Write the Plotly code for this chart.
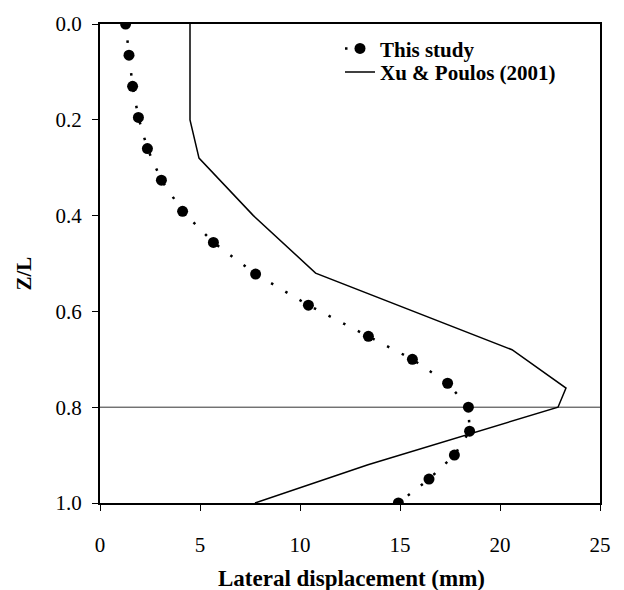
import plotly.graph_objects as go

# This study
study_z = [0.0, 0.065, 0.13, 0.195, 0.26, 0.326, 0.391, 0.456, 0.522, 0.587, 0.652, 0.70, 0.75, 0.80, 0.85, 0.90, 0.95, 1.0]
study_x = [1.28, 1.45, 1.63, 1.92, 2.37, 3.07, 4.13, 5.67, 7.78, 10.42, 13.42, 15.62, 17.38, 18.42, 18.48, 17.72, 16.45, 14.92]

# Xu & Poulos (2001)
xu_z = [0.0, 0.2, 0.28, 0.40, 0.52, 0.68, 0.76, 0.80, 0.92, 1.0]
xu_x = [4.5, 4.5, 4.95, 7.67, 10.78, 20.6, 23.3, 22.9, 13.4, 7.75]

ref_z = 0.8
x_ticks = [0, 5, 10, 15, 20, 25]
y_ticks = [0.0, 0.2, 0.4, 0.6, 0.8, 1.0]

FONT = "Liberation Serif"

fig = go.Figure()
fig.add_trace(go.Scatter(
    x=study_x, y=study_z, mode="lines+markers", name="<b>This study</b>",
    line=dict(color="black", width=2.5, dash="2.5px,14px"),
    marker=dict(color="black", size=11), legend="legend",
))
fig.add_trace(go.Scatter(
    x=xu_x, y=xu_z, mode="lines", name="<b>Xu &amp; Poulos (2001)</b>",
    line=dict(color="black", width=1.5), legend="legend2",
))

fig.add_shape(type="line", xref="paper", x0=0, x1=1, yref="y", y0=ref_z, y1=ref_z,
              line=dict(color="#333", width=1), layer="below")

leg_common = dict(xanchor="left", yanchor="top", bgcolor="rgba(0,0,0,0)",
                  font=dict(family=FONT, size=21))

fig.update_layout(
    width=624, height=590,
    margin=dict(l=100, r=24, t=16, b=87),
    paper_bgcolor="white", plot_bgcolor="white",
    font=dict(family=FONT, size=21, color="black"),
    showlegend=True,
    legend=dict(x=0.48, y=0.991, **leg_common),
    legend2=dict(x=0.48, y=0.942, **leg_common),
    xaxis=dict(range=[0, 25], tickvals=x_ticks, showgrid=False, zeroline=False,
               showline=True, linecolor="black", linewidth=2, mirror=True,
               ticks="outside", ticklen=6, tickcolor="black", tickwidth=1,
               ticklabelstandoff=16),
    yaxis=dict(range=[1.0, 0.0], tickvals=y_ticks, tickformat=".1f", showgrid=False,
               zeroline=False, showline=True, linecolor="black", linewidth=2, mirror=True,
               ticks="outside", ticklen=6, tickcolor="black", tickwidth=1,
               ticklabelstandoff=6),
    annotations=[
        dict(text="<b>Lateral displacement (mm)</b>", xref="paper", yref="paper",
             x=0.502, y=-0.157, xanchor="center", yanchor="middle", showarrow=False,
             font=dict(family=FONT, size=23)),
        dict(text="<b>Z/L</b>", xref="paper", yref="paper", textangle=-90,
             x=-0.152, y=0.479, xanchor="center", yanchor="middle", showarrow=False,
             font=dict(family=FONT, size=21)),
    ],
)

fig.write_html("out.html")
